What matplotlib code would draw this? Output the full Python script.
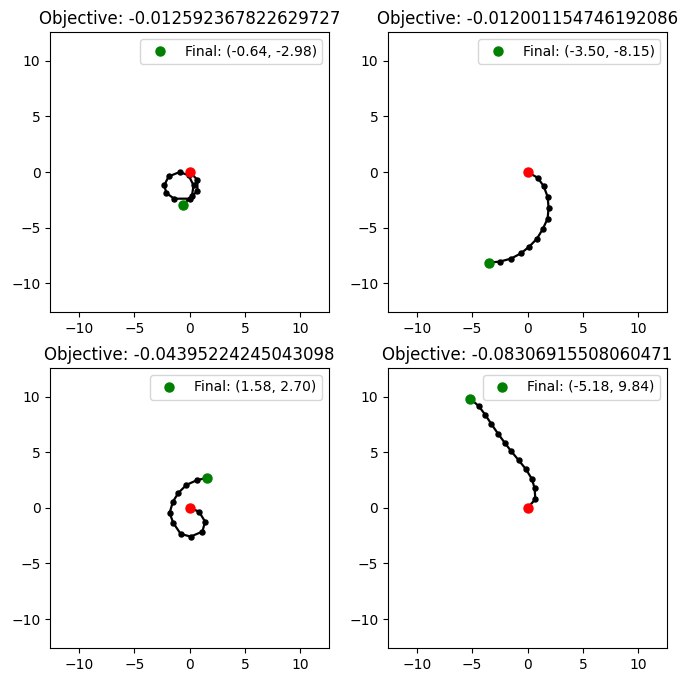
import matplotlib
matplotlib.use("Agg")
import matplotlib.pyplot as plt

titles = [
    "Objective: -0.012592367822629727",
    "Objective: -0.012001154746192086",
    "Objective: -0.04395224245043098",
    "Objective: -0.08306915508060471",
]

x1 = [0.0, 0.7, 0.7, 0.0, -1.4, -2.1, -2.3, -1.9, -0.9, -0.1, 0.35, 0.2, -0.64]
y1 = [0.0, -0.7, -1.7, -2.4, -2.4, -1.9, -1.2, -0.4, 0.0, -0.3, -1.2, -2.2, -2.98]

x2 = [0.0, 0.90, 1.45, 1.81, 1.90, 1.81, 1.36, 0.85, 0.15, -0.60, -1.50, -2.53, -3.50]
y2 = [0.0, -0.51, -1.26, -2.22, -3.21, -4.20, -5.16, -6.00, -6.72, -7.32, -7.80, -8.07, -8.15]

x3 = [0.0, 0.84, 1.39, 1.15, 0.09, -0.81, -1.48, -1.81, -1.51, -1.02, -0.30, 0.70, 1.58]
y3 = [0.0, -0.33, -1.23, -2.13, -2.58, -2.34, -1.35, -0.45, 0.57, 1.35, 2.07, 2.52, 2.70]

x4 = [0.0, 0.70, 0.64, 0.40, -0.15, -0.81, -1.48, -2.08, -2.68, -3.26, -3.80, -4.40, -5.18]
y4 = [0.0, 0.78, 1.75, 2.59, 3.49, 4.30, 5.11, 5.89, 6.70, 7.54, 8.35, 9.16, 9.84]

xs = [x1, x2, x3, x4]
ys = [y1, y2, y3, y4]

lim = 12.6

fig, axes = plt.subplots(2, 2, figsize=(6.87, 6.82), dpi=100)
fig.subplots_adjust(left=0.073, right=0.971, top=0.953, bottom=0.050,
                    wspace=0.211, hspace=0.2)

for ax, t, x, y in zip(axes.flat, titles, xs, ys):
    ax.plot(x, y, color="black", linewidth=1.6, marker="o", markersize=3.6)
    ax.plot(x[0], y[0], "o", color="red", markersize=6.5)
    ax.plot(x[-1], y[-1], "o", color="green", markersize=6.5,
            label=f"Final: ({x[-1]:.2f}, {y[-1]:.2f})")
    ax.set_xlim(-lim, lim)
    ax.set_ylim(-lim, lim)
    ax.set_xticks([-10, -5, 0, 5, 10])
    ax.set_yticks([-10, -5, 0, 5, 10])
    ax.set_title(t)
    ax.legend(loc="upper right")

fig.savefig("out.png", dpi=100)
